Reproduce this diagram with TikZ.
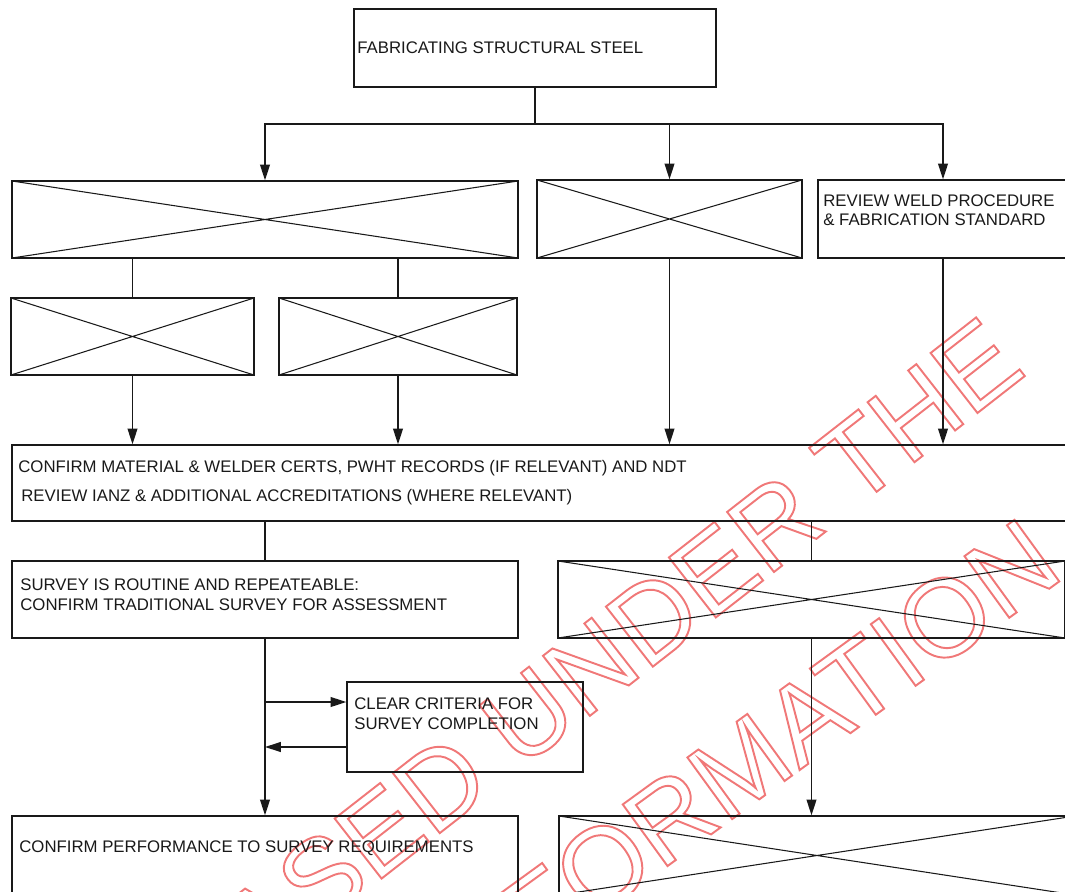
\documentclass[tikz,border=0pt]{standalone}
\usepackage{fontspec}
\setmainfont{Liberation Sans}
\usetikzlibrary{arrows.meta,fit}
\definecolor{wmred}{RGB}{240,120,120}
\definecolor{ink}{RGB}{25,25,25}
\newcommand{\outlinetext}[1]{\special{pdf:literal direct 1 Tr 1.1 w}#1\special{pdf:literal direct 0 Tr}}
\tikzset{
  box/.style={draw=ink, line width=0.75pt, inner sep=0pt, rectangle},
  xbox/.style={box, path picture={\draw[ink, line width=0.6pt]
      (path picture bounding box.north west) -- (path picture bounding box.south east)
      (path picture bounding box.south west) -- (path picture bounding box.north east);}},
  lbl/.style={anchor=base west, inner sep=0pt, text=ink, font=\fontsize{9.55}{11}\selectfont},
  conn/.style={draw=ink, line width=0.8pt},
  arr/.style={conn, -{Triangle[length=9pt,width=5.6pt]}},
  wm/.style={text=wmred, inner sep=0pt, font=\fontsize{63}{76}\selectfont}
}
\begin{document}
\begin{tikzpicture}[x=0.02cm, y=-0.02cm]
\useasboundingbox (0,0) rectangle (1065,892);
% watermark
\node[wm, rotate=38] (wm1) at (506,733) {\outlinetext{RELEASED UNDER THE}};
\node[wm, rotate=36] (wm2) at (622,852) {\outlinetext{OFFICIAL INFORMATION ACT}};
% boxes
\node[box,  fit={(354,9) (716,87)}] (top) {};
\node[xbox, fit={(12,181) (518,258)}] (A) {};
\node[xbox, fit={(537,180) (802,258)}] (B) {};
\node[box,  fit={(818,180) (1068,258)}] (C) {};
\node[xbox, fit={(11,298) (254,375)}] (D) {};
\node[xbox, fit={(279,298) (517,375)}] (E) {};
\node[box,  fit={(12,445) (1068,521)}] (F) {};
\node[box,  fit={(12,561) (518,638)}] (G) {};
\node[xbox, fit={(558,561) (1065,638)}] (H) {};
\node[box,  fit={(347,682) (583,772)}] (I) {};
\node[box,  fit={(12,816) (518,900)}] (J) {};
\node[xbox, fit={(559,816) (1075,895)}] (K) {};
% texts
\node[lbl] (tTop) at (357,54) {FABRICATING STRUCTURAL STEEL};
\node[lbl] (tC1) at (823,206) {REVIEW WELD PROCEDURE};
\node[lbl] (tC2) at (823,225) {\& FABRICATION STANDARD};
\node[lbl] (tF1) at (18,472) {CONFIRM MATERIAL \& WELDER CERTS, PWHT RECORDS (IF RELEVANT) AND NDT};
\node[lbl] (tF2) at (21,501) {REVIEW IANZ \& ADDITIONAL ACCREDITATIONS (WHERE RELEVANT)};
\node[lbl] (tG1) at (20,590) {SURVEY IS ROUTINE AND REPEATEABLE:};
\node[lbl] (tG2) at (20,610) {CONFIRM TRADITIONAL SURVEY FOR ASSESSMENT};
\node[lbl] (tI1) at (354,709) {CLEAR CRITERIA FOR};
\node[lbl] (tI2) at (354,729) {SURVEY COMPLETION};
\node[lbl] (tJ) at (19,852) {CONFIRM PERFORMANCE TO SURVEY REQUIREMENTS};
% connectors
\coordinate (j1) at (535,124);
\draw[conn] (top.south) -- (j1);
\draw[arr] (j1) -| (A.north);
\draw[arr] (j1) -| (B.north);
\draw[arr] (j1) -| (C.north);
\draw[conn] (D.north |- A.south) -- (D.north);
\draw[conn] (E.north |- A.south) -- (E.north);
\draw[arr] (D.south) -- (D.south |- F.north);
\draw[arr] (E.south) -- (E.south |- F.north);
\draw[arr] (B.south) -- (B.south |- F.north);
\draw[arr] (C.south) -- (C.south |- F.north);
\draw[conn] (G.north |- F.south) -- (G.north);
\draw[conn] (H.north |- F.south) -- (H.north);
\draw[arr] (G.south) -- (G.south |- J.north);
\draw[arr] (H.south) -- (H.south |- K.north);
\coordinate (s1) at (265,702);
\coordinate (s2) at (265,747);
\draw[arr] (s1) -- (s1 -| I.west);
\draw[arr] (s2 -| I.west) -- (s2);
\end{tikzpicture}
\end{document}
